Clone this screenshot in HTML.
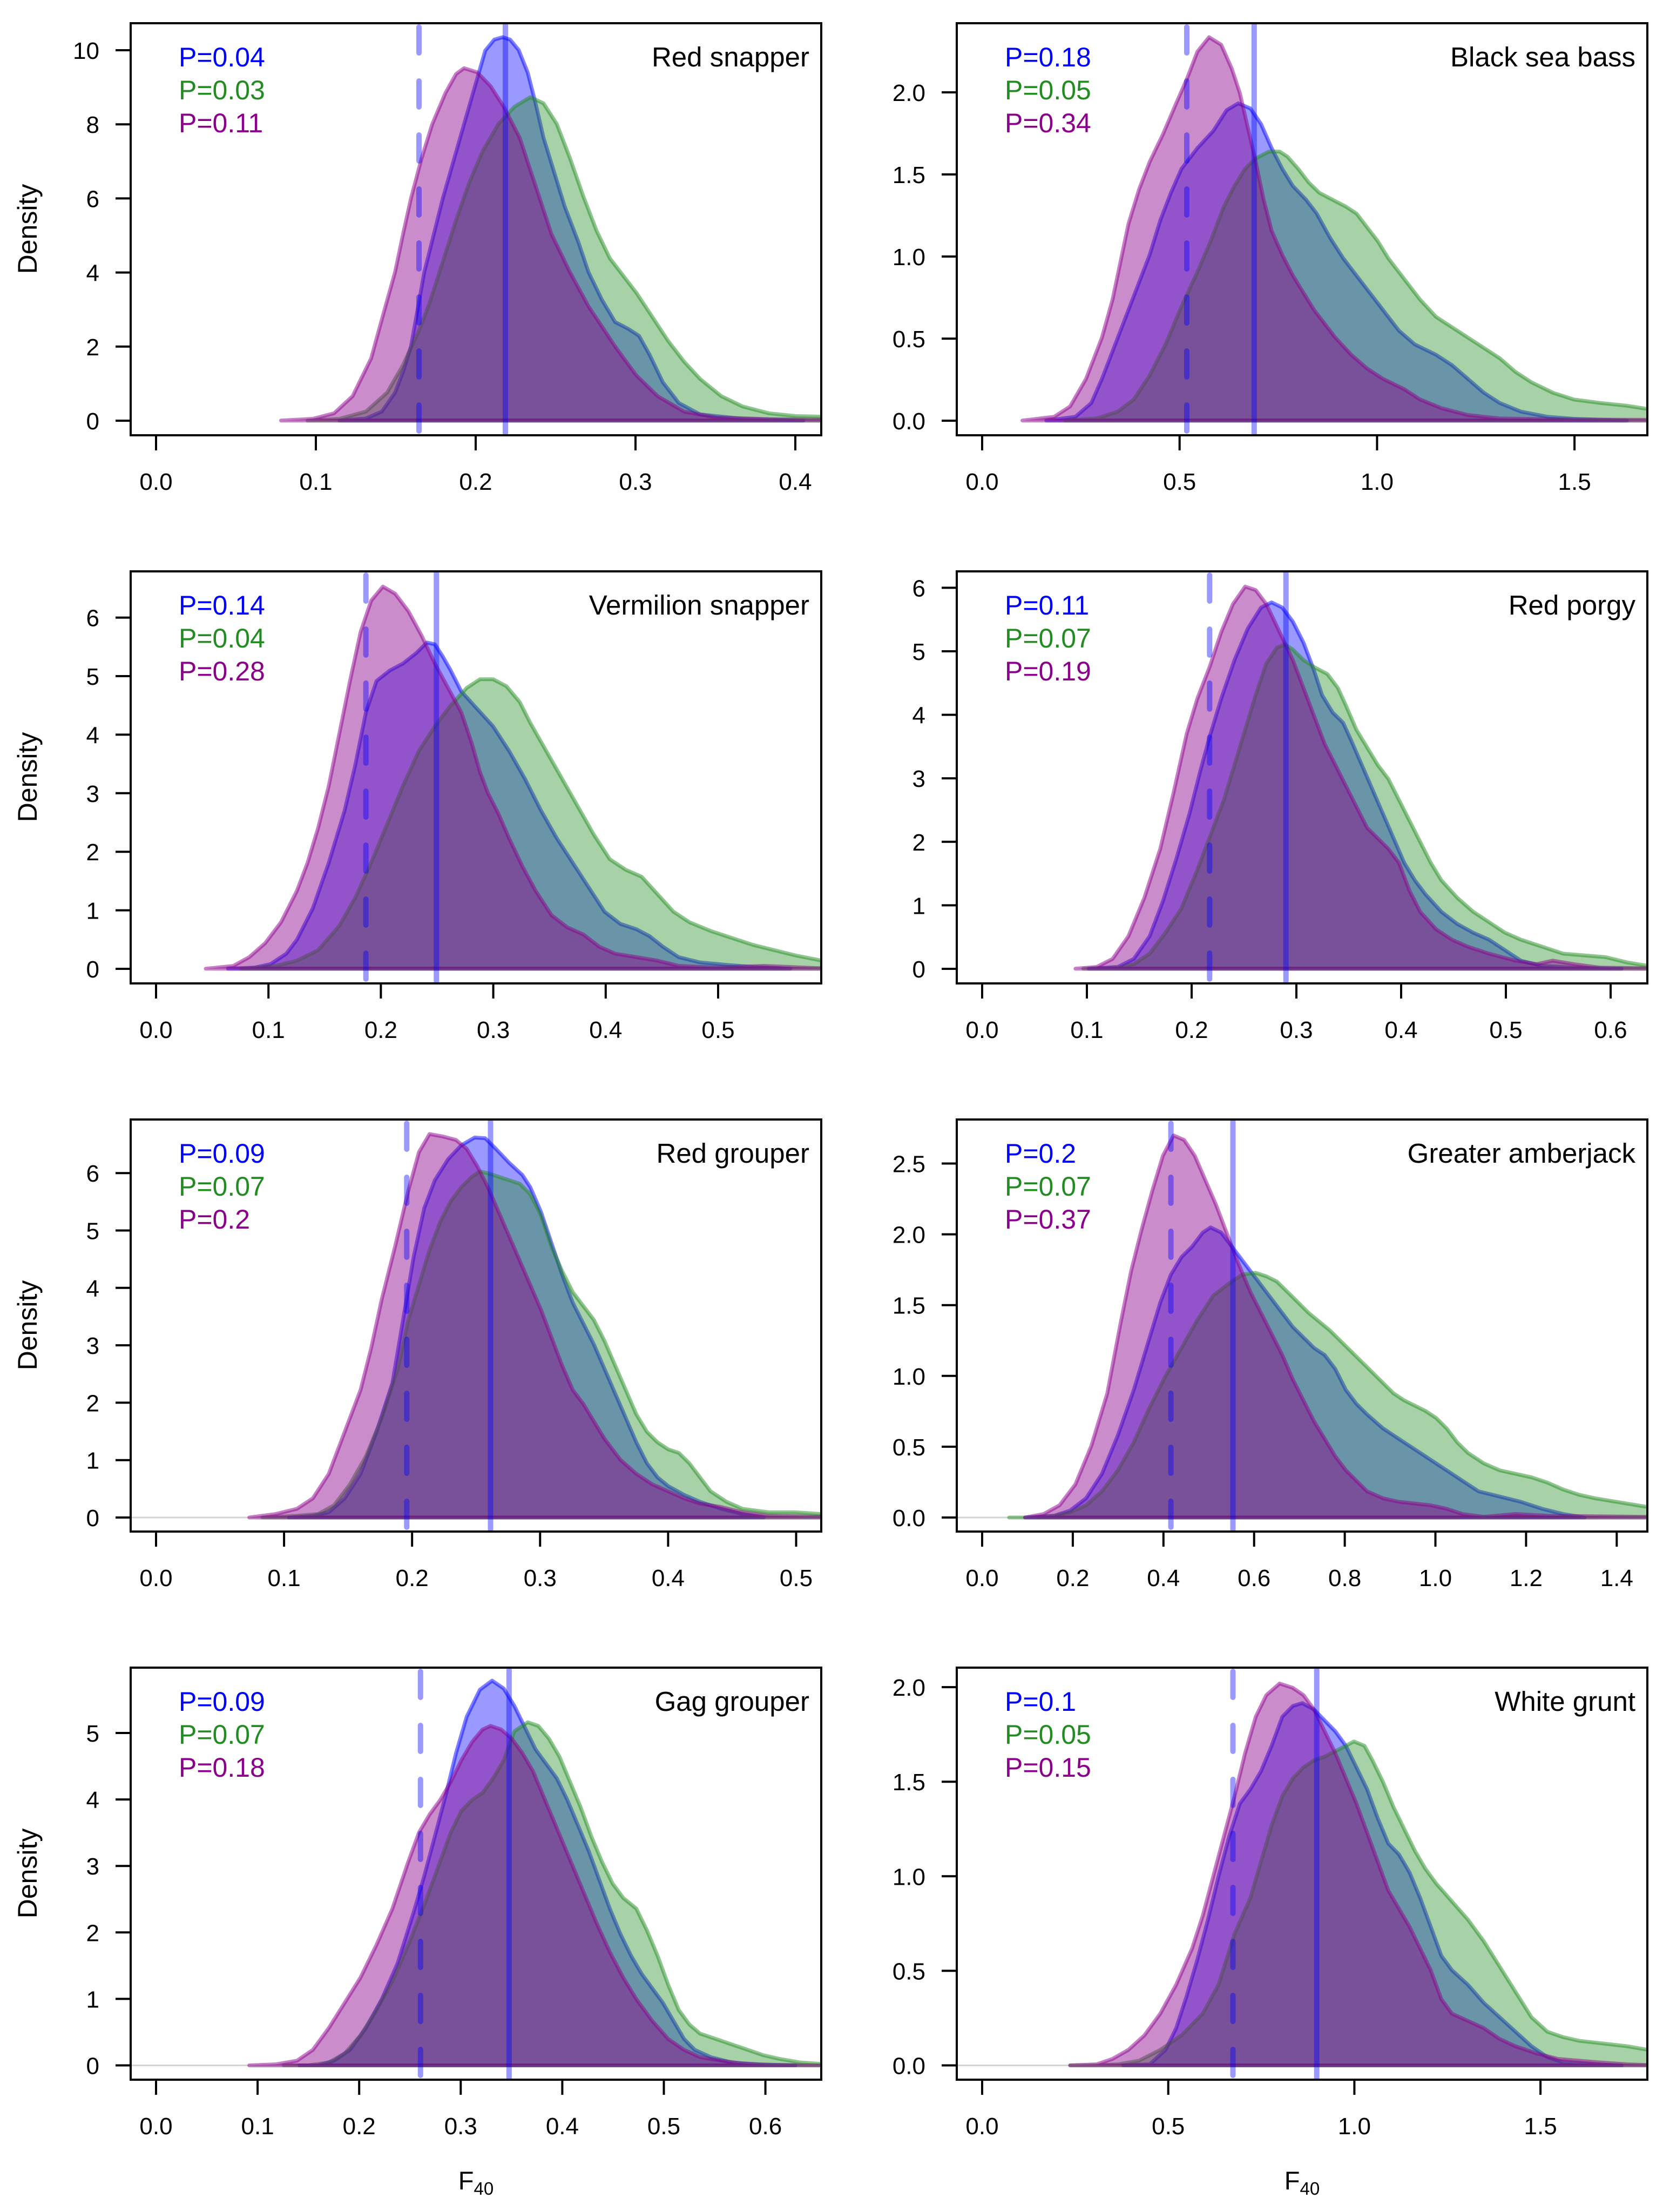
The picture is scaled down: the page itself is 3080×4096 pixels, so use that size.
<!DOCTYPE html>
<html>
<head>
<meta charset="utf-8">
<style>
html,body{margin:0;padding:0;background:#fff;}
svg{display:block;}
text{font-family:"Liberation Sans",Arial,sans-serif;}
polygon{stroke-width:7;vector-effect:non-scaling-stroke;stroke-linejoin:round;}
.b{fill:rgba(0,0,255,0.4);stroke:rgba(0,0,255,0.5);}
.g{fill:rgba(34,139,34,0.4);stroke:rgba(34,139,34,0.5);}
.p{fill:rgba(139,0,139,0.45);stroke:rgba(139,0,139,0.5);}
.vs{stroke:rgba(0,0,255,0.4);stroke-width:10;}
.vd{stroke:rgba(0,0,255,0.4);stroke-width:10;stroke-dasharray:48 52;stroke-linecap:round;}
.box{fill:none;stroke:#000;stroke-width:4;}
.tk{stroke:#000;stroke-width:4;}
.gl{stroke:#d3d3d3;stroke-width:3;}
.tl{font-size:44px;fill:#000;}
.yl{font-size:44px;fill:#000;text-anchor:end;}
.xl{font-size:44px;fill:#000;text-anchor:middle;}
.pb{font-size:50px;fill:#0000ff;}
.pg{font-size:50px;fill:#228b22;}
.pp{font-size:50px;fill:#8b008b;}
.ti{font-size:51px;fill:#000;text-anchor:end;}
.dn{font-size:50px;fill:#000;text-anchor:middle;}
.fl{font-size:47px;fill:#000;text-anchor:middle;}
</style>
</head>
<body>
<svg width="3080" height="4096" viewBox="0 0 3080 4096" xmlns="http://www.w3.org/2000/svg">
<defs>
<clipPath id="c1"><rect x="242" y="43" width="1279" height="763"/></clipPath>
<clipPath id="c2"><rect x="1772" y="43" width="1279" height="763"/></clipPath>
<clipPath id="c3"><rect x="242" y="1058" width="1279" height="763"/></clipPath>
<clipPath id="c4"><rect x="1772" y="1058" width="1279" height="763"/></clipPath>
<clipPath id="c5"><rect x="242" y="2073" width="1279" height="763"/></clipPath>
<clipPath id="c6"><rect x="1772" y="2073" width="1279" height="763"/></clipPath>
<clipPath id="c7"><rect x="242" y="3088" width="1279" height="763"/></clipPath>
<clipPath id="c8"><rect x="1772" y="3088" width="1279" height="763"/></clipPath>
</defs>
<rect x="0" y="0" width="3080" height="4096" fill="#fff"/>

<!-- ===== Panel 1: Red snapper ===== -->
<g clip-path="url(#c1)">
<g transform="matrix(0.98214 0 0 0.63776 0 0)">
<polygon class="b" points="640,1221 690,1215 720,1195 745,1140 760,1080 775,1006 800,791 835,576 875,361 915,147 932,115 948,108 962,115 978,145 995,210 1010,300 1025,400 1045,500 1065,600 1090,700 1110,791 1135,870 1160,935 1185,955 1205,975 1225,1030 1250,1110 1280,1170 1320,1203 1400,1216 1515,1221"/>
<polygon class="g" points="580,1221 640,1216 690,1195 730,1140 760,1060 790,960 810,880 835,760 860,640 885,530 910,440 940,360 970,310 1000,282 1025,300 1050,360 1075,460 1100,570 1125,670 1150,750 1175,800 1200,850 1230,920 1260,990 1290,1050 1320,1100 1360,1150 1400,1180 1450,1200 1500,1208 1560,1210 1560,1221"/>
<polygon class="p" points="530,1221 590,1216 630,1200 665,1150 700,1040 725,900 745,790 760,680 775,576 795,460 815,361 840,270 860,215 875,198 900,210 925,250 950,310 980,400 1010,540 1040,680 1075,791 1110,890 1160,1006 1200,1090 1240,1150 1290,1195 1350,1212 1450,1217 1560,1219 1560,1221"/>
</g>
<line class="vs" x1="936" y1="43" x2="936" y2="806"/>
<line class="vd" x1="776" y1="50" x2="776" y2="806"/>
</g>
<rect class="box" x="242" y="43" width="1279" height="763"/>
<g class="tk">
<line x1="214" y1="779" x2="242" y2="779"/><line x1="214" y1="641.8" x2="242" y2="641.8"/><line x1="214" y1="504.6" x2="242" y2="504.6"/><line x1="214" y1="367.4" x2="242" y2="367.4"/><line x1="214" y1="230.2" x2="242" y2="230.2"/><line x1="214" y1="93" x2="242" y2="93"/>
<line x1="289" y1="806" x2="289" y2="834"/><line x1="585" y1="806" x2="585" y2="834"/><line x1="881" y1="806" x2="881" y2="834"/><line x1="1177" y1="806" x2="1177" y2="834"/><line x1="1473" y1="806" x2="1473" y2="834"/>
</g>
<text class="yl" x="184" y="795">0</text><text class="yl" x="184" y="657.8">2</text><text class="yl" x="184" y="520.6">4</text><text class="yl" x="184" y="383.4">6</text><text class="yl" x="184" y="246.2">8</text><text class="yl" x="184" y="109">10</text>
<text class="xl" x="289" y="907">0.0</text><text class="xl" x="585" y="907">0.1</text><text class="xl" x="881" y="907">0.2</text><text class="xl" x="1177" y="907">0.3</text><text class="xl" x="1473" y="907">0.4</text>
<text class="dn" transform="translate(68,424) rotate(-90)">Density</text>
<text class="pb" x="331" y="123">P=0.04</text><text class="pg" x="331" y="184">P=0.03</text><text class="pp" x="331" y="245">P=0.11</text>
<text class="ti" x="1499" y="123">Red snapper</text>

<!-- ===== Panel 2: Black sea bass ===== -->
<g clip-path="url(#c2)">
<g transform="matrix(0.98214 0 0 0.63776 1540 0)">
<polygon class="b" points="405,1221 460,1210 490,1170 510,1100 540,980 570,860 600,740 620,640 640,560 660,490 690,430 720,380 745,320 767,300 790,315 810,360 830,430 850,490 870,540 895,580 915,620 940,690 965,750 990,800 1010,840 1040,900 1070,960 1100,1000 1140,1030 1170,1060 1200,1100 1230,1140 1260,1170 1300,1195 1350,1210 1400,1216 1500,1221"/>
<polygon class="g" points="440,1221 500,1215 540,1195 570,1160 600,1090 630,1000 660,890 690,790 715,700 740,600 760,540 780,490 800,460 825,440 845,440 860,455 880,490 900,530 920,560 945,580 970,600 990,620 1010,660 1030,700 1050,750 1080,810 1110,870 1140,920 1170,950 1200,980 1230,1010 1260,1040 1290,1080 1320,1110 1360,1140 1400,1160 1450,1170 1500,1178 1550,1190 1550,1221"/>
<polygon class="p" points="360,1221 420,1210 450,1180 480,1100 510,980 530,870 545,760 560,650 580,550 600,470 625,390 650,300 670,230 690,150 712,108 735,130 755,200 770,270 785,370 800,470 815,580 830,670 850,740 870,800 890,850 910,900 930,940 950,980 980,1030 1010,1070 1040,1100 1080,1130 1110,1160 1150,1185 1200,1205 1260,1215 1400,1218 1550,1219 1550,1221"/>
</g>
<line class="vs" x1="2322.8" y1="43" x2="2322.8" y2="806"/>
<line class="vd" x1="2198" y1="50" x2="2198" y2="806"/>
</g>
<rect class="box" x="1772" y="43" width="1279" height="763"/>
<g class="tk">
<line x1="1744" y1="779" x2="1772" y2="779"/><line x1="1744" y1="627" x2="1772" y2="627"/><line x1="1744" y1="475" x2="1772" y2="475"/><line x1="1744" y1="323" x2="1772" y2="323"/><line x1="1744" y1="171" x2="1772" y2="171"/>
<line x1="1819" y1="806" x2="1819" y2="834"/><line x1="2184.7" y1="806" x2="2184.7" y2="834"/><line x1="2550.4" y1="806" x2="2550.4" y2="834"/><line x1="2916.1" y1="806" x2="2916.1" y2="834"/>
</g>
<text class="yl" x="1714" y="795">0.0</text><text class="yl" x="1714" y="643">0.5</text><text class="yl" x="1714" y="491">1.0</text><text class="yl" x="1714" y="339">1.5</text><text class="yl" x="1714" y="187">2.0</text>
<text class="xl" x="1819" y="907">0.0</text><text class="xl" x="2184.7" y="907">0.5</text><text class="xl" x="2550.4" y="907">1.0</text><text class="xl" x="2916.1" y="907">1.5</text>
<text class="pb" x="1861" y="123">P=0.18</text><text class="pg" x="1861" y="184">P=0.05</text><text class="pp" x="1861" y="245">P=0.34</text>
<text class="ti" x="3029" y="123">Black sea bass</text>

<!-- ===== Panel 3: Vermilion snapper ===== -->
<g clip-path="url(#c3)">
<g transform="matrix(0.98214 0 0 0.64732 0 1015)">
<polygon class="b" points="430,1203 480,1200 510,1190 540,1160 560,1120 590,1030 620,900 650,750 670,620 690,470 710,380 735,350 760,330 785,300 805,270 820,275 835,310 850,350 870,410 900,460 930,510 960,580 990,660 1020,750 1050,830 1080,900 1110,970 1140,1040 1170,1075 1200,1090 1225,1110 1250,1140 1280,1170 1320,1185 1370,1192 1420,1198 1490,1203"/>
<polygon class="g" points="455,1203 520,1195 560,1180 600,1150 640,1080 670,1000 700,900 730,790 760,680 790,580 820,510 850,450 880,400 905,375 930,375 955,395 980,440 1000,500 1030,580 1060,660 1090,740 1120,820 1150,890 1180,920 1210,940 1240,990 1270,1040 1300,1070 1340,1095 1380,1115 1420,1135 1460,1150 1500,1165 1550,1180 1550,1203"/>
<polygon class="p" points="388,1203 440,1195 470,1170 500,1130 530,1070 560,980 580,900 600,800 620,680 640,530 660,380 680,240 700,150 722,110 745,130 770,180 795,250 820,330 845,400 870,470 890,560 905,640 920,700 940,760 960,830 985,910 1010,980 1040,1050 1070,1085 1100,1105 1130,1140 1160,1160 1200,1170 1240,1180 1280,1195 1350,1200 1440,1195 1550,1202 1550,1203"/>
</g>
<line class="vs" x1="808.3" y1="1058" x2="808.3" y2="1821"/>
<line class="vd" x1="677.7" y1="1065" x2="677.7" y2="1821"/>
</g>
<rect class="box" x="242" y="1058" width="1279" height="763"/>
<g class="tk">
<line x1="214" y1="1794" x2="242" y2="1794"/><line x1="214" y1="1685.6" x2="242" y2="1685.6"/><line x1="214" y1="1577.2" x2="242" y2="1577.2"/><line x1="214" y1="1468.8" x2="242" y2="1468.8"/><line x1="214" y1="1360.4" x2="242" y2="1360.4"/><line x1="214" y1="1252" x2="242" y2="1252"/><line x1="214" y1="1143.6" x2="242" y2="1143.6"/>
<line x1="289" y1="1821" x2="289" y2="1849"/><line x1="497.2" y1="1821" x2="497.2" y2="1849"/><line x1="705.4" y1="1821" x2="705.4" y2="1849"/><line x1="913.6" y1="1821" x2="913.6" y2="1849"/><line x1="1121.8" y1="1821" x2="1121.8" y2="1849"/><line x1="1330" y1="1821" x2="1330" y2="1849"/>
</g>
<text class="yl" x="184" y="1810">0</text><text class="yl" x="184" y="1701.6">1</text><text class="yl" x="184" y="1593.2">2</text><text class="yl" x="184" y="1484.8">3</text><text class="yl" x="184" y="1376.4">4</text><text class="yl" x="184" y="1268">5</text><text class="yl" x="184" y="1159.6">6</text>
<text class="xl" x="289" y="1922">0.0</text><text class="xl" x="497.2" y="1922">0.1</text><text class="xl" x="705.4" y="1922">0.2</text><text class="xl" x="913.6" y="1922">0.3</text><text class="xl" x="1121.8" y="1922">0.4</text><text class="xl" x="1330" y="1922">0.5</text>
<text class="dn" transform="translate(68,1439) rotate(-90)">Density</text>
<text class="pb" x="331" y="1138">P=0.14</text><text class="pg" x="331" y="1199">P=0.04</text><text class="pp" x="331" y="1260">P=0.28</text>
<text class="ti" x="1499" y="1138">Vermilion snapper</text>

<!-- ===== Panel 4: Red porgy ===== -->
<g clip-path="url(#c4)">
<g transform="matrix(0.98214 0 0 0.64732 1540 1015)">
<polygon class="b" points="485,1203 540,1198 570,1175 600,1110 625,1010 650,890 675,760 695,640 713,540 735,430 760,320 785,230 810,170 830,155 850,170 870,210 890,270 910,350 925,420 945,470 965,500 980,550 1000,620 1020,690 1040,760 1060,830 1080,900 1100,950 1120,990 1150,1040 1180,1075 1210,1100 1240,1120 1270,1150 1300,1180 1340,1195 1400,1200 1490,1203"/>
<polygon class="g" points="475,1203 540,1200 570,1190 600,1160 630,1100 660,1030 690,920 720,800 740,720 760,620 780,520 800,420 820,330 840,285 855,275 870,290 890,320 910,340 935,360 955,400 970,450 990,520 1010,570 1030,620 1050,660 1070,720 1090,780 1110,840 1130,900 1150,950 1180,1000 1210,1040 1240,1070 1270,1100 1300,1120 1340,1140 1380,1160 1420,1165 1460,1170 1500,1185 1540,1195 1540,1203"/>
<polygon class="p" points="460,1203 500,1198 530,1175 560,1110 590,1000 620,860 645,700 670,530 690,430 713,340 735,240 757,160 780,110 800,120 820,160 845,240 870,320 890,400 910,480 930,560 950,620 970,680 990,740 1010,800 1030,830 1050,860 1070,900 1090,980 1110,1040 1140,1090 1170,1120 1200,1140 1240,1160 1290,1180 1330,1190 1360,1180 1400,1190 1450,1200 1540,1202 1540,1203"/>
</g>
<line class="vs" x1="2381.7" y1="1058" x2="2381.7" y2="1821"/>
<line class="vd" x1="2240.3" y1="1065" x2="2240.3" y2="1821"/>
</g>
<rect class="box" x="1772" y="1058" width="1279" height="763"/>
<g class="tk">
<line x1="1744" y1="1794" x2="1772" y2="1794"/><line x1="1744" y1="1676.4" x2="1772" y2="1676.4"/><line x1="1744" y1="1558.8" x2="1772" y2="1558.8"/><line x1="1744" y1="1441.2" x2="1772" y2="1441.2"/><line x1="1744" y1="1323.6" x2="1772" y2="1323.6"/><line x1="1744" y1="1206" x2="1772" y2="1206"/><line x1="1744" y1="1088.4" x2="1772" y2="1088.4"/>
<line x1="1819" y1="1821" x2="1819" y2="1849"/><line x1="2013" y1="1821" x2="2013" y2="1849"/><line x1="2207" y1="1821" x2="2207" y2="1849"/><line x1="2401" y1="1821" x2="2401" y2="1849"/><line x1="2595" y1="1821" x2="2595" y2="1849"/><line x1="2789" y1="1821" x2="2789" y2="1849"/><line x1="2983" y1="1821" x2="2983" y2="1849"/>
</g>
<text class="yl" x="1714" y="1810">0</text><text class="yl" x="1714" y="1692.4">1</text><text class="yl" x="1714" y="1574.8">2</text><text class="yl" x="1714" y="1457.2">3</text><text class="yl" x="1714" y="1339.6">4</text><text class="yl" x="1714" y="1222">5</text><text class="yl" x="1714" y="1104.4">6</text>
<text class="xl" x="1819" y="1922">0.0</text><text class="xl" x="2013" y="1922">0.1</text><text class="xl" x="2207" y="1922">0.2</text><text class="xl" x="2401" y="1922">0.3</text><text class="xl" x="2595" y="1922">0.4</text><text class="xl" x="2789" y="1922">0.5</text><text class="xl" x="2983" y="1922">0.6</text>
<text class="pb" x="1861" y="1138">P=0.11</text><text class="pg" x="1861" y="1199">P=0.07</text><text class="pp" x="1861" y="1260">P=0.19</text>
<text class="ti" x="3029" y="1138">Red porgy</text>

<!-- ===== Panel 5: Red grouper ===== -->
<g clip-path="url(#c5)">
<line class="gl" x1="242" y1="2810" x2="1521" y2="2810"/>
<g transform="matrix(0.98214 0 0 0.64732 0 2030)">
<polygon class="b" points="545,1205 590,1200 620,1190 650,1150 680,1080 710,960 740,820 760,640 780,460 800,320 820,240 845,180 870,140 895,118 915,120 935,150 960,190 985,225 1000,260 1020,330 1040,420 1060,510 1080,590 1100,650 1120,710 1140,780 1160,850 1180,920 1200,990 1220,1050 1240,1090 1260,1115 1290,1140 1320,1160 1360,1180 1400,1195 1440,1205"/>
<polygon class="g" points="495,1205 560,1200 600,1195 630,1170 660,1110 690,1030 720,920 750,780 770,640 790,540 810,440 830,360 850,300 870,260 890,230 905,215 920,220 940,230 960,240 980,250 1000,280 1020,340 1040,430 1060,500 1080,560 1100,600 1120,640 1140,700 1160,770 1180,840 1200,910 1220,960 1240,990 1260,1010 1280,1020 1300,1050 1320,1090 1340,1130 1370,1160 1400,1180 1450,1190 1500,1190 1550,1195 1550,1205"/>
<polygon class="p" points="470,1205 520,1195 560,1180 590,1150 620,1080 650,960 680,840 700,720 720,580 745,430 770,270 790,160 810,108 835,115 860,125 880,150 900,200 920,260 940,330 960,400 980,470 1000,540 1020,610 1040,690 1060,770 1080,840 1100,880 1120,930 1140,980 1170,1040 1200,1080 1230,1110 1260,1130 1290,1150 1320,1165 1360,1175 1400,1190 1450,1200 1550,1203 1550,1205"/>
</g>
<line class="vs" x1="908.5" y1="2073" x2="908.5" y2="2836"/>
<line class="vd" x1="753.3" y1="2080" x2="753.3" y2="2836"/>
</g>
<rect class="box" x="242" y="2073" width="1279" height="763"/>
<g class="tk">
<line x1="214" y1="2810" x2="242" y2="2810"/><line x1="214" y1="2703.7" x2="242" y2="2703.7"/><line x1="214" y1="2597.4" x2="242" y2="2597.4"/><line x1="214" y1="2491.1" x2="242" y2="2491.1"/><line x1="214" y1="2384.8" x2="242" y2="2384.8"/><line x1="214" y1="2278.5" x2="242" y2="2278.5"/><line x1="214" y1="2172.2" x2="242" y2="2172.2"/>
<line x1="289" y1="2836" x2="289" y2="2864"/><line x1="526.1" y1="2836" x2="526.1" y2="2864"/><line x1="763.2" y1="2836" x2="763.2" y2="2864"/><line x1="1000.3" y1="2836" x2="1000.3" y2="2864"/><line x1="1237.4" y1="2836" x2="1237.4" y2="2864"/><line x1="1474.5" y1="2836" x2="1474.5" y2="2864"/>
</g>
<text class="yl" x="184" y="2826">0</text><text class="yl" x="184" y="2719.7">1</text><text class="yl" x="184" y="2613.4">2</text><text class="yl" x="184" y="2507.1">3</text><text class="yl" x="184" y="2400.8">4</text><text class="yl" x="184" y="2294.5">5</text><text class="yl" x="184" y="2188.2">6</text>
<text class="xl" x="289" y="2937">0.0</text><text class="xl" x="526.1" y="2937">0.1</text><text class="xl" x="763.2" y="2937">0.2</text><text class="xl" x="1000.3" y="2937">0.3</text><text class="xl" x="1237.4" y="2937">0.4</text><text class="xl" x="1474.5" y="2937">0.5</text>
<text class="dn" transform="translate(68,2454) rotate(-90)">Density</text>
<text class="pb" x="331" y="2153">P=0.09</text><text class="pg" x="331" y="2214">P=0.07</text><text class="pp" x="331" y="2275">P=0.2</text>
<text class="ti" x="1499" y="2153">Red grouper</text>

<!-- ===== Panel 6: Greater amberjack ===== -->
<g clip-path="url(#c6)">
<line class="gl" x1="1772" y1="2810" x2="3051" y2="2810"/>
<g transform="matrix(0.98214 0 0 0.64732 1540 2030)">
<polygon class="b" points="365,1205 420,1200 450,1185 480,1150 510,1080 540,970 570,840 600,690 620,590 640,510 660,460 680,430 700,390 715,375 735,390 750,420 770,460 790,500 810,540 830,580 850,620 870,660 890,690 910,720 930,740 950,780 970,840 990,880 1010,910 1040,950 1070,980 1100,1010 1130,1040 1160,1070 1190,1100 1220,1130 1260,1145 1300,1160 1340,1180 1380,1195 1420,1205"/>
<polygon class="g" points="335,1205 380,1205 420,1200 450,1190 480,1170 510,1130 540,1070 570,990 600,890 630,800 660,720 690,640 720,570 750,535 775,510 800,505 820,515 840,530 860,560 880,590 900,620 920,645 940,670 960,700 980,730 1000,760 1020,790 1040,820 1060,850 1080,870 1100,885 1120,900 1140,920 1160,950 1180,990 1200,1020 1230,1050 1260,1070 1290,1080 1320,1090 1350,1105 1380,1125 1410,1140 1440,1150 1480,1160 1540,1175 1540,1205"/>
<polygon class="p" points="365,1205 400,1195 430,1170 460,1110 490,1000 520,850 545,650 565,500 585,380 605,270 625,170 645,112 665,125 685,170 705,240 725,310 745,390 765,470 790,560 810,620 830,680 850,740 870,810 890,870 910,930 930,980 950,1030 970,1070 990,1100 1010,1130 1040,1150 1070,1160 1100,1165 1130,1170 1160,1180 1190,1195 1230,1203 1290,1195 1350,1200 1540,1203 1540,1205"/>
</g>
<line class="vs" x1="2283.5" y1="2073" x2="2283.5" y2="2836"/>
<line class="vd" x1="2168.6" y1="2080" x2="2168.6" y2="2836"/>
</g>
<rect class="box" x="1772" y="2073" width="1279" height="763"/>
<g class="tk">
<line x1="1744" y1="2810" x2="1772" y2="2810"/><line x1="1744" y1="2678.9" x2="1772" y2="2678.9"/><line x1="1744" y1="2547.8" x2="1772" y2="2547.8"/><line x1="1744" y1="2416.7" x2="1772" y2="2416.7"/><line x1="1744" y1="2285.6" x2="1772" y2="2285.6"/><line x1="1744" y1="2154.5" x2="1772" y2="2154.5"/>
<line x1="1819" y1="2836" x2="1819" y2="2864"/><line x1="1986.9" y1="2836" x2="1986.9" y2="2864"/><line x1="2154.8" y1="2836" x2="2154.8" y2="2864"/><line x1="2322.7" y1="2836" x2="2322.7" y2="2864"/><line x1="2490.6" y1="2836" x2="2490.6" y2="2864"/><line x1="2658.5" y1="2836" x2="2658.5" y2="2864"/><line x1="2826.4" y1="2836" x2="2826.4" y2="2864"/><line x1="2994.3" y1="2836" x2="2994.3" y2="2864"/>
</g>
<text class="yl" x="1714" y="2826">0.0</text><text class="yl" x="1714" y="2694.9">0.5</text><text class="yl" x="1714" y="2563.8">1.0</text><text class="yl" x="1714" y="2432.7">1.5</text><text class="yl" x="1714" y="2301.6">2.0</text><text class="yl" x="1714" y="2170.5">2.5</text>
<text class="xl" x="1819" y="2937">0.0</text><text class="xl" x="1986.9" y="2937">0.2</text><text class="xl" x="2154.8" y="2937">0.4</text><text class="xl" x="2322.7" y="2937">0.6</text><text class="xl" x="2490.6" y="2937">0.8</text><text class="xl" x="2658.5" y="2937">1.0</text><text class="xl" x="2826.4" y="2937">1.2</text><text class="xl" x="2994.3" y="2937">1.4</text>
<text class="pb" x="1861" y="2153">P=0.2</text><text class="pg" x="1861" y="2214">P=0.07</text><text class="pp" x="1861" y="2275">P=0.37</text>
<text class="ti" x="3029" y="2153">Greater amberjack</text>

<!-- ===== Panel 7: Gag grouper ===== -->
<g clip-path="url(#c7)">
<line class="gl" x1="242" y1="3824.5" x2="1521" y2="3824.5"/>
<g transform="matrix(0.98214 0 0 0.67028 0 3045)">
<polygon class="b" points="565,1163 600,1163 630,1150 660,1120 690,1060 720,980 750,880 780,740 800,640 820,530 840,420 860,300 880,200 905,125 928,100 950,122 970,170 990,230 1010,290 1030,330 1050,370 1070,430 1090,500 1110,570 1130,650 1150,730 1170,800 1190,860 1210,910 1230,950 1250,990 1270,1040 1290,1090 1310,1120 1340,1140 1380,1155 1430,1160 1500,1163"/>
<polygon class="g" points="535,1163 580,1163 620,1155 650,1130 680,1080 710,1010 740,930 770,830 800,720 830,600 850,520 870,460 890,430 910,410 930,370 950,320 970,240 995,215 1015,225 1035,260 1055,310 1075,380 1095,450 1115,530 1135,600 1155,660 1175,700 1200,730 1220,790 1240,860 1260,940 1280,1010 1300,1050 1320,1075 1350,1090 1380,1105 1410,1120 1440,1135 1470,1145 1510,1155 1560,1160 1560,1163"/>
<polygon class="p" points="470,1163 520,1160 560,1150 590,1120 620,1060 650,990 680,920 710,830 740,730 770,600 790,520 810,470 830,430 850,380 870,320 890,270 910,235 925,225 945,235 965,260 985,300 1005,350 1025,420 1045,490 1065,560 1085,630 1105,700 1125,770 1150,850 1175,920 1200,980 1230,1040 1260,1090 1290,1120 1320,1140 1360,1150 1400,1158 1450,1162 1550,1163"/>
</g>
<line class="vs" x1="942.9" y1="3088" x2="942.9" y2="3851"/>
<line class="vd" x1="778.8" y1="3095" x2="778.8" y2="3851"/>
</g>
<rect class="box" x="242" y="3088" width="1279" height="763"/>
<g class="tk">
<line x1="214" y1="3824.5" x2="242" y2="3824.5"/><line x1="214" y1="3701.4" x2="242" y2="3701.4"/><line x1="214" y1="3578.3" x2="242" y2="3578.3"/><line x1="214" y1="3455.2" x2="242" y2="3455.2"/><line x1="214" y1="3332.1" x2="242" y2="3332.1"/><line x1="214" y1="3209" x2="242" y2="3209"/>
<line x1="289" y1="3851" x2="289" y2="3879"/><line x1="477.1" y1="3851" x2="477.1" y2="3879"/><line x1="665.2" y1="3851" x2="665.2" y2="3879"/><line x1="853.3" y1="3851" x2="853.3" y2="3879"/><line x1="1041.4" y1="3851" x2="1041.4" y2="3879"/><line x1="1229.5" y1="3851" x2="1229.5" y2="3879"/><line x1="1417.6" y1="3851" x2="1417.6" y2="3879"/>
</g>
<text class="yl" x="184" y="3840.5">0</text><text class="yl" x="184" y="3717.4">1</text><text class="yl" x="184" y="3594.3">2</text><text class="yl" x="184" y="3471.2">3</text><text class="yl" x="184" y="3348.1">4</text><text class="yl" x="184" y="3225">5</text>
<text class="xl" x="289" y="3952">0.0</text><text class="xl" x="477.1" y="3952">0.1</text><text class="xl" x="665.2" y="3952">0.2</text><text class="xl" x="853.3" y="3952">0.3</text><text class="xl" x="1041.4" y="3952">0.4</text><text class="xl" x="1229.5" y="3952">0.5</text><text class="xl" x="1417.6" y="3952">0.6</text>
<text class="dn" transform="translate(68,3469) rotate(-90)">Density</text>
<text class="pb" x="331" y="3168">P=0.09</text><text class="pg" x="331" y="3229">P=0.07</text><text class="pp" x="331" y="3290">P=0.18</text>
<text class="ti" x="1499" y="3168">Gag grouper</text>
<text class="fl" x="881.5" y="4054">F<tspan font-size="33" dy="10">40</tspan></text>

<!-- ===== Panel 8: White grunt ===== -->
<g clip-path="url(#c8)">
<line class="gl" x1="1772" y1="3824.5" x2="3051" y2="3824.5"/>
<g transform="matrix(0.98214 0 0 0.67028 1540 3045)">
<polygon class="b" points="550,1163 600,1160 630,1120 650,1060 670,970 690,870 710,760 730,640 750,530 770,440 790,400 810,350 830,280 850,200 870,170 888,162 910,180 930,210 950,240 970,280 990,340 1010,400 1030,480 1050,550 1070,580 1090,630 1110,700 1130,780 1150,860 1170,900 1200,940 1230,990 1260,1030 1290,1070 1320,1110 1350,1140 1380,1155 1430,1160 1490,1163"/>
<polygon class="g" points="450,1163 500,1163 540,1160 580,1150 620,1120 660,1080 700,1020 730,940 760,800 790,700 810,600 830,500 850,420 870,370 890,340 910,320 930,310 950,295 970,280 985,268 1005,280 1020,320 1040,380 1060,450 1080,510 1100,570 1120,620 1140,660 1170,710 1200,760 1230,820 1260,890 1290,960 1320,1030 1350,1070 1380,1085 1410,1095 1440,1100 1470,1105 1500,1110 1540,1120 1540,1163"/>
<polygon class="p" points="450,1163 500,1160 530,1145 560,1120 590,1080 620,1020 650,940 680,840 700,750 720,640 740,530 760,420 780,300 800,200 820,140 845,108 870,120 890,140 910,180 930,240 950,300 970,370 990,440 1010,520 1030,600 1050,680 1070,730 1090,780 1110,840 1130,900 1150,980 1170,1020 1200,1040 1230,1060 1260,1090 1290,1110 1330,1130 1370,1145 1410,1150 1450,1155 1500,1160 1540,1162 1540,1163"/>
</g>
<line class="vs" x1="2438.7" y1="3088" x2="2438.7" y2="3851"/>
<line class="vd" x1="2283.5" y1="3095" x2="2283.5" y2="3851"/>
</g>
<rect class="box" x="1772" y="3088" width="1279" height="763"/>
<g class="tk">
<line x1="1744" y1="3824.5" x2="1772" y2="3824.5"/><line x1="1744" y1="3649.4" x2="1772" y2="3649.4"/><line x1="1744" y1="3474.3" x2="1772" y2="3474.3"/><line x1="1744" y1="3299.2" x2="1772" y2="3299.2"/><line x1="1744" y1="3124.1" x2="1772" y2="3124.1"/>
<line x1="1819" y1="3851" x2="1819" y2="3879"/><line x1="2163.7" y1="3851" x2="2163.7" y2="3879"/><line x1="2508.4" y1="3851" x2="2508.4" y2="3879"/><line x1="2853.1" y1="3851" x2="2853.1" y2="3879"/>
</g>
<text class="yl" x="1714" y="3840.5">0.0</text><text class="yl" x="1714" y="3665.4">0.5</text><text class="yl" x="1714" y="3490.3">1.0</text><text class="yl" x="1714" y="3315.2">1.5</text><text class="yl" x="1714" y="3140.1">2.0</text>
<text class="xl" x="1819" y="3952">0.0</text><text class="xl" x="2163.7" y="3952">0.5</text><text class="xl" x="2508.4" y="3952">1.0</text><text class="xl" x="2853.1" y="3952">1.5</text>
<text class="pb" x="1861" y="3168">P=0.1</text><text class="pg" x="1861" y="3229">P=0.05</text><text class="pp" x="1861" y="3290">P=0.15</text>
<text class="ti" x="3029" y="3168">White grunt</text>
<text class="fl" x="2411.5" y="4054">F<tspan font-size="33" dy="10">40</tspan></text>
</svg>
</body>
</html>
